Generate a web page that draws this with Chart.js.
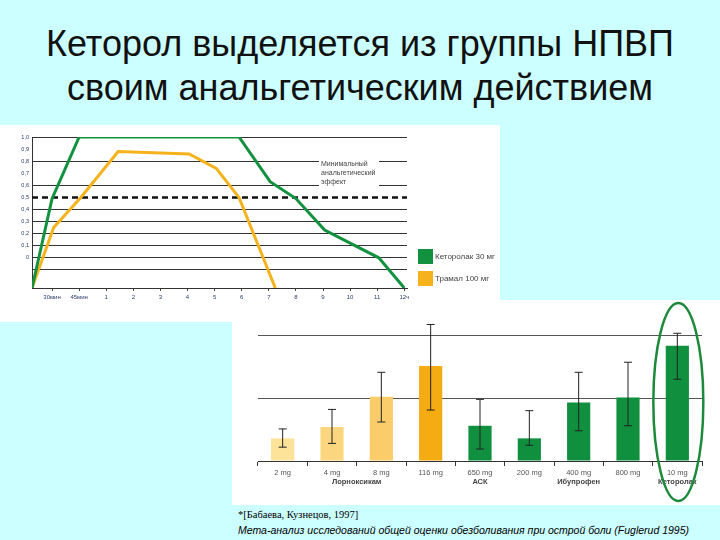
<!DOCTYPE html>
<html><head><meta charset="utf-8">
<script src="https://cdn.jsdelivr.net/npm/chart.js@4"></script>
<style>
body{margin:0;width:720px;height:540px;background:#ccffff;position:relative;overflow:hidden;font-family:"Liberation Sans",Arial,sans-serif}
h1{position:absolute;left:0;top:22px;width:720px;margin:0;text-align:center;font-weight:normal;font-size:36px;line-height:44px;color:#111}
#b1{position:absolute;left:0;top:125px;width:500px;height:197px;background:#fff;z-index:2}
#b2{position:absolute;left:232px;top:300px;width:488px;height:205px;background:#fff;z-index:1}
.fn{position:absolute;left:238px;font-size:10.5px;color:#000}
</style></head><body>
<h1>Кеторол выделяется из группы НПВП<br>своим анальгетическим действием</h1>
<div id="b1"><canvas id="c1" width="500" height="197"></canvas></div>
<div id="b2"><canvas id="c2" width="488" height="205"></canvas></div>
<div class="fn" style="top:509px;font-family:'Liberation Serif',serif">*[Бабаева, Кузнецов, 1997]</div>
<div class="fn" style="top:524px;font-style:italic">Мета-анализ исследований общей оценки обезболивания при острой боли (Fuglerud 1995)</div>
<script>
// Top chart data
const timeLabels = ['30мин','45мин','1','2','3','4','5','6','7','8','9','10','11','12ч'];
const ketorolacX = [0.26,1,2,7.9,9.05,10,11.06,13.06,14];
const ketorolacY = [-0.25,0.49,1.0,1.0,0.63,0.49,0.23,0.0,-0.25];
const tramalX = [0.26,1.06,2.06,3.44,6.06,7.06,7.9,9.24];
const tramalY = [-0.25,0.25,0.5,0.88,0.86,0.74,0.5,-0.25];
const thresholdY = 0.5;
// Bottom chart data
const doseLabels = ['2 mg','4 mg','8 mg','116 mg','650 mg','200 mg','400 mg','800 mg','10 mg'];
const barValues = [0.36,0.54,1.02,1.51,0.56,0.36,0.93,1.01,1.83];
const errHigh = [0.51,0.82,1.41,2.17,0.98,0.80,1.41,1.57,2.03];
const errLow = [0.22,0.28,0.62,0.81,0.19,0.25,0.48,0.56,1.30];
const barColors = ['#fde39a','#fbd67e','#fbcd6a','#f5ab12','#10903e','#10903e','#10903e','#10903e','#10903e'];
const groupNames = ['Лорноксикам','АСК','Ибупрофен','Кеторолак'];
const groupPos = [1.5,4,6,8];

const GREEN='#12913f', ORANGE='#f6b21c';
const pts=(xs,ys)=>xs.map((x,i)=>({x,y:ys[i]}));

const topPlugin={id:'tp',afterDraw(c){
  const ctx=c.ctx;
  ctx.save();
  ctx.font='7px "Liberation Sans"';ctx.textBaseline='top';
  ['Минимальный','анальгетический','эффект'].forEach((t,i)=>{
    ctx.fillStyle='#fff';ctx.fillRect(319,35+i*9,60,9);ctx.fillStyle='#444';ctx.fillText(t,321,36+i*9);});
  ctx.fillStyle=GREEN;ctx.fillRect(418,124,15,15);
  ctx.fillStyle=ORANGE;ctx.fillRect(418,146,15,15);
  ctx.fillStyle='#444';ctx.font='8px "Liberation Sans"';ctx.textBaseline='middle';
  ctx.fillText('Кеторолак 30 мг',435,132);ctx.fillText('Трамал 100 мг',435,154);
  ctx.restore();}};

new Chart(document.getElementById('c1'),{type:'line',
 data:{datasets:[
  {data:pts(ketorolacX,ketorolacY),borderColor:GREEN,borderWidth:3,pointRadius:0,tension:0},
  {data:pts(tramalX,tramalY),borderColor:ORANGE,borderWidth:3,pointRadius:0,tension:0},
  {data:[{x:0.26,y:thresholdY},{x:14.1,y:thresholdY}],borderColor:'#111',borderWidth:2.5,borderDash:[6,4],pointRadius:0}]},
 options:{responsive:false,animation:false,plugins:{legend:{display:false},tooltip:{enabled:false}},
  layout:{padding:{left:0,right:93,top:12,bottom:12}},
  scales:{
   x:{type:'linear',min:0.26,max:14.1,afterFit(s){s.height=22;},
      afterBuildTicks(s){s.ticks=timeLabels.map((_,i)=>({value:i+1}));},
      ticks:{autoSkip:false,maxRotation:0,color:'#2a3a6a',font:{size:6},callback:(v)=>timeLabels[v-1]},
      grid:{drawOnChartArea:false,tickLength:3,color:'#444'},border:{color:'#333'}},
   y:{min:-0.25,max:1.0,afterFit(s){s.width=32;},
      afterBuildTicks(s){s.ticks=[-0.1,0,0.1,0.2,0.3,0.4,0.5,0.6,0.7,0.8,0.9,1.0].map(v=>({value:v}));},
      ticks:{color:'#2a3a6a',font:{size:5.5},callback:v=>v<0?'':(v===0?'0':v.toFixed(1).replace('.',','))},
      grid:{color:ctx=>{const v=Math.round(ctx.tick.value*10);return (v===5||v===7||v===9)?'rgba(0,0,0,0)':'#333';},lineWidth:1,drawTicks:false},
      border:{color:'#333'}}}},
 plugins:[topPlugin]});

const botPlugin={id:'bp',afterDatasetsDraw(c){
  const ctx=c.ctx,x=c.scales.x,y=c.scales.y;
  ctx.save();ctx.strokeStyle='#222';ctx.lineWidth=1;
  barValues.forEach((_,i)=>{const px=x.getPixelForValue(i),t=y.getPixelForValue(errHigh[i]),b=y.getPixelForValue(errLow[i]);
   ctx.beginPath();ctx.moveTo(px,t);ctx.lineTo(px,b);ctx.moveTo(px-4,t);ctx.lineTo(px+4,t);ctx.moveTo(px-4,b);ctx.lineTo(px+4,b);ctx.stroke();});
  ctx.fillStyle='#444';ctx.font='bold 7.5px "Liberation Sans"';ctx.textAlign='center';ctx.textBaseline='middle';
  groupNames.forEach((g,i)=>ctx.fillText(g,x.getPixelForValue(groupPos[i]),182));
  const cx=x.getPixelForValue(8);
  ctx.strokeStyle='#1c8a3a';ctx.lineWidth=2.5;ctx.beginPath();ctx.ellipse(cx+1,102,25,99,0,0,Math.PI*2);ctx.stroke();
  ctx.restore();}};

new Chart(document.getElementById('c2'),{type:'bar',
 data:{labels:doseLabels,datasets:[{data:barValues,backgroundColor:barColors,barPercentage:0.47,categoryPercentage:1}]},
 options:{responsive:false,animation:false,plugins:{legend:{display:false},tooltip:{enabled:false}},
  layout:{padding:{left:26,right:18,top:10,bottom:0}},
  scales:{
   x:{afterFit(s){s.height=44;},ticks:{color:'#555',font:{size:7.5},padding:2},
      grid:{offset:true,drawOnChartArea:false,tickLength:5,color:'#333'},border:{color:'#333'}},
   y:{min:0,max:2.4,afterFit(s){s.width=0;},
      afterBuildTicks(s){s.ticks=[0,1,2].map(v=>({value:v}));},
      ticks:{display:false},border:{display:false},
      grid:{color:ctx=>ctx.tick.value===0?'rgba(0,0,0,0)':'#555',drawTicks:false}}}},
 plugins:[botPlugin]});
</script>
</body></html>
